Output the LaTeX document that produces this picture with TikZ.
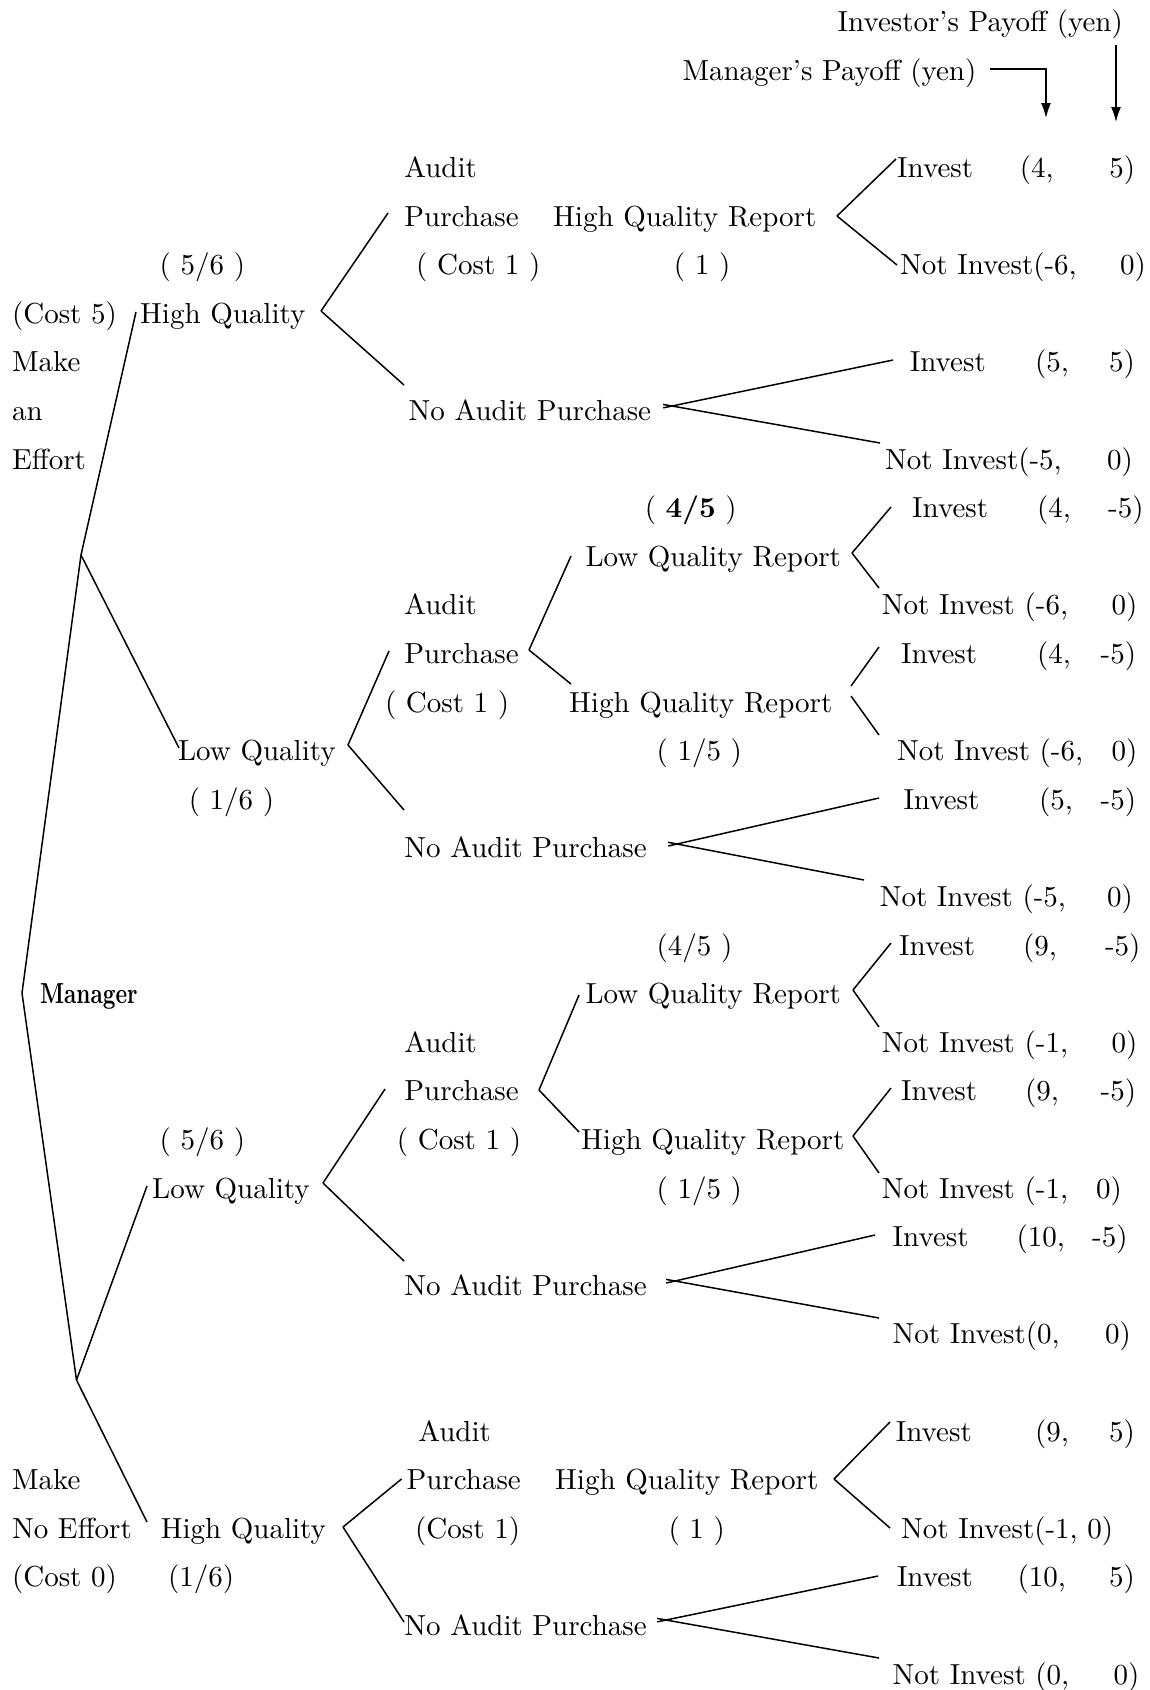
\documentclass[tikz,border=0pt]{standalone}
\usepackage{fontspec}
\setmainfont{lmroman10-regular.otf}[BoldFont=lmroman10-bold.otf]
\usepackage{graphicx}
\usetikzlibrary{arrows.meta}
\newcommand\mytxtsize{\fontsize{29}{35}\selectfont}
\newcommand\rowy[1]{31.6+48.6*#1}
\begin{document}
\begin{tikzpicture}[x=1pt,y=-1pt,
  txt/.style={anchor=base west, inner sep=0pt, font=\mytxtsize},
  br/.style={line width=1.5pt},
  brx/.style={line width=1.5pt, shorten <=-9pt},
  arr/.style={line width=1.5pt, -{Latex[length=15pt,width=10pt]}}]
\useasboundingbox (0,0) rectangle (1149,1690);
\fill[white] (0,0) rectangle (1149,1690);

% ---------- header ----------
\node[txt] (hInv) at (837.5,{\rowy{0}}) {Investor's Payoff (yen)};
\node[txt] (hMgr) at (682.3,{\rowy{1}}) {Manager's Payoff (yen)};
\coordinate (mA) at (990,69);
\coordinate (mB) at (1046,118);
\coordinate (iA) at (1116,45);
\coordinate (iB) at (1116,122);
\draw[arr] (mA) -| (mB);
\draw[arr] (iA) -- (iB);

% ---------- texts: effort / high quality ----------
\node[txt] (a3) at (404.2,{\rowy{3}}) {Audit};
\node[txt] (i3) at (897,{\rowy{3}}) {Invest};
\node[txt] (p3a) at (1019.7,{\rowy{3}}) {(4,};
\node[txt] (p3b) at (1109.2,{\rowy{3}}) {5)};
\node[txt] (a4) at (404.2,{\rowy{4}}) {Purchase};
\node[txt] (hqr4) at (553,{\rowy{4}}) {High Quality Report};
\node[txt] (q5) at (159.5,{\rowy{5}}) {( 5/6 )};
\node[txt] (c5) at (416,{\rowy{5}}) {( Cost 1 )};
\node[txt] (o5) at (673.7,{\rowy{5}}) {( 1 )};
\node[txt] (n5) at (900,{\rowy{5}}) {Not Invest(-6,};
\node[txt] (p5b) at (1120,{\rowy{5}}) {0)};
\node[txt] (e6) at (11.9,{\rowy{6}}) {(Cost 5)};
\node[txt] (hq6) at (140,{\rowy{6}}) {High Quality};
\node[txt] (e7) at (11.9,{\rowy{7}}) {Make};
\node[txt] (i7) at (909.7,{\rowy{7}}) {Invest};
\node[txt] (p7a) at (1034.8,{\rowy{7}}) {(5,};
\node[txt] (p7b) at (1109,{\rowy{7}}) {5)};
\node[txt] (e8) at (11.9,{\rowy{8}}) {an};
\node[txt] (na8) at (408.5,{\rowy{8}}) {No Audit Purchase};
\node[txt] (e9) at (11.9,{\rowy{9}}) {Effort};
\node[txt] (n9) at (885,{\rowy{9}}) {Not Invest(-5,};
\node[txt] (p9b) at (1107,{\rowy{9}}) {0)};

% ---------- texts: effort / low quality ----------
\node[txt] (q10) at (644.6,{\rowy{10}}) {( \textbf{4/5} )};
\node[txt] (i10) at (912,{\rowy{10}}) {Invest};
\node[txt] (p10a) at (1037,{\rowy{10}}) {(4,};
\node[txt] (p10b) at (1108,{\rowy{10}}) {-5)};
\node[txt] (lqr11) at (585.3,{\rowy{11}}) {Low Quality Report};
\node[txt] (a12) at (404.2,{\rowy{12}}) {Audit};
\node[txt] (n12) at (881.7,{\rowy{12}}) {Not Invest (-6,};
\node[txt] (p12b) at (1111.3,{\rowy{12}}) {0)};
\node[txt] (a13) at (404.2,{\rowy{13}}) {Purchase};
\node[txt] (i13) at (901,{\rowy{13}}) {Invest};
\node[txt] (p13a) at (1037,{\rowy{13}}) {(4,};
\node[txt] (p13b) at (1100.5,{\rowy{13}}) {-5)};
\node[txt] (c14) at (384.8,{\rowy{14}}) {( Cost 1 )};
\node[txt] (hqr14) at (569,{\rowy{14}}) {High Quality Report};
\node[txt] (lq15) at (177.9,{\rowy{15}}) {Low Quality};
\node[txt] (q15) at (656.4,{\rowy{15}}) {( 1/5 )};
\node[txt] (n15) at (896.8,{\rowy{15}}) {Not Invest (-6,};
\node[txt] (p15b) at (1111.3,{\rowy{15}}) {0)};
\node[txt] (q16) at (188.6,{\rowy{16}}) {( 1/6 )};
\node[txt] (i16) at (903.3,{\rowy{16}}) {Invest};
\node[txt] (p16a) at (1039,{\rowy{16}}) {(5,};
\node[txt] (p16b) at (1100.5,{\rowy{16}}) {-5)};
\node[txt] (na17) at (404.2,{\rowy{17}}) {No Audit Purchase};
\node[txt] (n18) at (879.6,{\rowy{18}}) {Not Invest (-5,};
\node[txt] (p18b) at (1107,{\rowy{18}}) {0)};

% ---------- texts: no effort / low quality ----------
\node[txt] (q19) at (656.4,{\rowy{19}}) {(4/5 )};
\node[txt] (i19) at (899,{\rowy{19}}) {Invest};
\node[txt] (p19a) at (1023,{\rowy{19}}) {(9,};
\node[txt] (p19b) at (1104.8,{\rowy{19}}) {-5)};
\node[txt] (mgr) at (39.9,{\rowy{20}}) {\scalebox{0.76}[1]{\bfseries Manager}};
\node[txt] (lqr20) at (585.3,{\rowy{20}}) {Low Quality Report};
\node[txt] (a21) at (404.2,{\rowy{21}}) {Audit};
\node[txt] (n21) at (881.7,{\rowy{21}}) {Not Invest (-1,};
\node[txt] (p21b) at (1111.3,{\rowy{21}}) {0)};
\node[txt] (a22) at (404.2,{\rowy{22}}) {Purchase};
\node[txt] (i22) at (901,{\rowy{22}}) {Invest};
\node[txt] (p22a) at (1025,{\rowy{22}}) {(9,};
\node[txt] (p22b) at (1100.5,{\rowy{22}}) {-5)};
\node[txt] (q23) at (159.5,{\rowy{23}}) {( 5/6 )};
\node[txt] (c23) at (396.7,{\rowy{23}}) {( Cost 1 )};
\node[txt] (hqr23) at (581,{\rowy{23}}) {High Quality Report};
\node[txt] (lq24) at (152,{\rowy{24}}) {Low Quality};
\node[txt] (q24) at (656.4,{\rowy{24}}) {( 1/5 )};
\node[txt] (n24) at (881.7,{\rowy{24}}) {Not Invest (-1,};
\node[txt] (p24b) at (1096,{\rowy{24}}) {0)};
\node[txt] (i25) at (892.5,{\rowy{25}}) {Invest};
\node[txt] (p25a) at (1016.5,{\rowy{25}}) {(10,};
\node[txt] (p25b) at (1092,{\rowy{25}}) {-5)};
\node[txt] (na26) at (404.2,{\rowy{26}}) {No Audit Purchase};
\node[txt] (n27) at (892.5,{\rowy{27}}) {Not Invest(0,};
\node[txt] (p27b) at (1104.8,{\rowy{27}}) {0)};

% ---------- texts: no effort / high quality ----------
\node[txt] (a29) at (418.2,{\rowy{29}}) {Audit};
\node[txt] (i29) at (895.7,{\rowy{29}}) {Invest};
\node[txt] (p29a) at (1034.8,{\rowy{29}}) {(9,};
\node[txt] (p29b) at (1109,{\rowy{29}}) {5)};
\node[txt] (m30) at (11.9,{\rowy{30}}) {Make};
\node[txt] (a30) at (406.4,{\rowy{30}}) {Purchase};
\node[txt] (hqr30) at (555,{\rowy{30}}) {High Quality Report};
\node[txt] (m31) at (11.9,{\rowy{31}}) {No Effort};
\node[txt] (hq31) at (160.6,{\rowy{31}}) {High Quality};
\node[txt] (c31) at (415,{\rowy{31}}) {(Cost 1)};
\node[txt] (o31) at (668.3,{\rowy{31}}) {( 1 )};
\node[txt] (n31) at (901,{\rowy{31}}) {Not Invest(-1, 0)};
\node[txt] (m32) at (11.9,{\rowy{32}}) {(Cost 0)};
\node[txt] (q32) at (168,{\rowy{32}}) {(1/6)};
\node[txt] (i32) at (896.8,{\rowy{32}}) {Invest};
\node[txt] (p32a) at (1017.5,{\rowy{32}}) {(10,};
\node[txt] (p32b) at (1109,{\rowy{32}}) {5)};
\node[txt] (na33) at (404.2,{\rowy{33}}) {No Audit Purchase};
\node[txt] (n34) at (892.5,{\rowy{34}}) {Not Invest (0,};
\node[txt] (p34b) at (1113.5,{\rowy{34}}) {0)};

% ---------- tree vertices ----------
\coordinate (root) at (22,993);
\coordinate (eff) at (81,555);
\coordinate (noeff) at (76.5,1380);
\coordinate (hq1e) at (136,312);
\coordinate (lq1e) at (179,748);
\coordinate (lq2e) at (147,1186);
\coordinate (hq2e) at (147,1522);

\draw[br] (root) -- (eff);
\draw[br] (root) -- (noeff);
\draw[br] (eff) -- (hq1e);
\draw[br] (eff) -- (lq1e);
\draw[br] (noeff) -- (lq2e);
\draw[br] (noeff) -- (hq2e);

% effort / high quality
\coordinate (v1) at (321,311);
\coordinate (v1a) at (388,213);
\coordinate (v1b) at (404,385);
\draw[br] (v1) -- (v1a);
\draw[br] (v1) -- (v1b);
\coordinate (v2) at (837,216);
\coordinate (v2a) at (896,159);
\coordinate (v2b) at (897,265);
\draw[br] (v2) -- (v2a);
\draw[br] (v2) -- (v2b);
\coordinate (v3) at (672,406);
\coordinate (v3a) at (893,360);
\coordinate (v3b) at (880,443);
\draw[brx] (v3) -- (v3a);
\draw[brx] (v3) -- (v3b);

% effort / low quality
\coordinate (v4) at (348,745);
\coordinate (v4a) at (389,651);
\coordinate (v4b) at (404,810);
\draw[br] (v4) -- (v4a);
\draw[br] (v4) -- (v4b);
\coordinate (v5) at (529,650);
\coordinate (v5a) at (571,556);
\coordinate (v5b) at (571,684);
\draw[br] (v5) -- (v5a);
\draw[br] (v5) -- (v5b);
\coordinate (v6) at (852,553);
\coordinate (v6a) at (891,507);
\coordinate (v6b) at (879,588);
\draw[br] (v6) -- (v6a);
\draw[br] (v6) -- (v6b);
\coordinate (v7u) at (851,686);
\coordinate (v7a) at (879,647);
\coordinate (v7l) at (851,696);
\coordinate (v7b) at (879,735);
\draw[br] (v7u) -- (v7a);
\draw[br] (v7l) -- (v7b);
\coordinate (v8) at (677,844);
\coordinate (v8a) at (879,798);
\coordinate (v8b) at (864,880);
\draw[brx] (v8) -- (v8a);
\draw[brx] (v8) -- (v8b);

% no effort / low quality
\coordinate (v9) at (323,1183);
\coordinate (v9a) at (385,1089);
\coordinate (v9b) at (404,1261);
\draw[br] (v9) -- (v9a);
\draw[br] (v9) -- (v9b);
\coordinate (v10) at (539,1090);
\coordinate (v10a) at (579,995);
\coordinate (v10b) at (579,1132);
\draw[br] (v10) -- (v10a);
\draw[br] (v10) -- (v10b);
\coordinate (v11) at (853,990);
\coordinate (v11a) at (891,943);
\coordinate (v11b) at (879,1027);
\draw[br] (v11) -- (v11a);
\draw[br] (v11) -- (v11b);
\coordinate (v12) at (853,1136);
\coordinate (v12a) at (891,1088);
\coordinate (v12b) at (879,1173);
\draw[br] (v12) -- (v12a);
\draw[br] (v12) -- (v12b);
\coordinate (v13) at (675,1281);
\coordinate (v13a) at (875,1235);
\coordinate (v13b) at (879,1318);
\draw[brx] (v13) -- (v13a);
\draw[brx] (v13) -- (v13b);

% no effort / high quality
\coordinate (v14) at (343,1527);
\coordinate (v14a) at (401.5,1479);
\coordinate (v14b) at (404,1622);
\draw[br] (v14) -- (v14a);
\draw[br] (v14) -- (v14b);
\coordinate (v15) at (834,1479);
\coordinate (v15a) at (890,1422);
\coordinate (v15b) at (890,1528);
\draw[br] (v15) -- (v15a);
\draw[br] (v15) -- (v15b);
\coordinate (v16) at (666,1620);
\coordinate (v16a) at (878,1576);
\coordinate (v16b) at (879,1658);
\draw[brx] (v16) -- (v16a);
\draw[brx] (v16) -- (v16b);
\end{tikzpicture}
\end{document}
